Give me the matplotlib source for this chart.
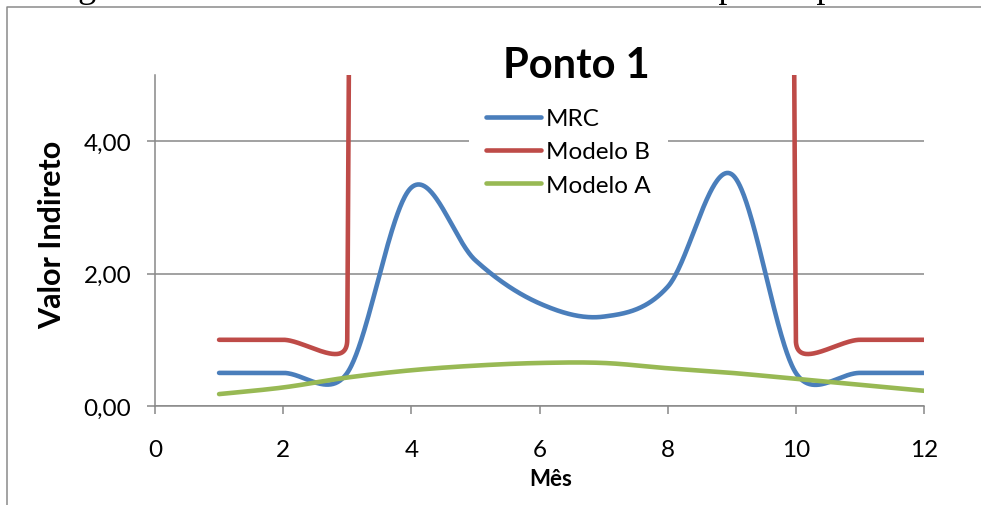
import numpy as np
import matplotlib
matplotlib.use('Agg')
import matplotlib.pyplot as plt
from matplotlib.lines import Line2D

plt.rcParams['font.family'] = ['Lato', 'DejaVu Sans']

# monthly series (Ponto 1)
meses = [1, 2, 3, 4, 5, 6, 7, 8, 9, 10, 11, 12]
mrc = [0.50, 0.50, 0.50, 3.30, 2.20, 1.55, 1.35, 1.80, 3.50, 0.50, 0.50, 0.50]
modelo_b = [1.00, 1.00, 1.00, 300.0, 420.0, 480.0, 470.0, 400.0, 300.0, 1.00, 1.00, 1.00]
modelo_a = [0.18, 0.28, 0.43, 0.54, 0.61, 0.65, 0.65, 0.57, 0.50, 0.41, 0.32, 0.23]

series = [('MRC', mrc, '#4A7EBB'),
          ('Modelo B', modelo_b, '#BE4B48'),
          ('Modelo A', modelo_a, '#98B954')]

xticks = [0, 2, 4, 6, 8, 10, 12]
yticks = [0, 2, 4]

W, H = 981, 506
GRID = '#888888'


def smooth_curve(ax, x, y, n=80):
    """Spreadsheet-style smoothed line: Bezier segments built in screen space."""
    pts = ax.transData.transform(np.column_stack([x, y]))
    out = [pts[0]]
    for i in range(len(pts) - 1):
        p0 = pts[i - 1] if i > 0 else pts[i]
        p1, p2 = pts[i], pts[i + 1]
        p3 = pts[i + 2] if i + 2 < len(pts) else pts[i + 1]
        d02 = np.hypot(*(p2 - p0))
        d12 = np.hypot(*(p2 - p1))
        d13 = np.hypot(*(p3 - p1))
        f1 = f2 = 1 / 6
        if d02 / 6 >= d12 / 2 and d02 > 0:
            f1 = d12 / 2 / d02
        if d13 / 6 >= d12 / 2 and d13 > 0:
            f2 = d12 / 2 / d13
        c1 = p1 + f1 * (p2 - p0)
        c2 = p2 - f2 * (p3 - p1)
        t = np.linspace(0, 1, n)[1:, None]
        seg = ((1 - t) ** 3 * p1 + 3 * (1 - t) ** 2 * t * c1
               + 3 * (1 - t) * t ** 2 * c2 + t ** 3 * p2)
        out.extend(seg)
    out = ax.transData.inverted().transform(np.array(out))
    return out[:, 0], out[:, 1]


fig = plt.figure(figsize=(W / 100, H / 100), dpi=100)
ax = fig.add_axes([155 / W, 1 - 407 / H, (924 - 155) / W, (407 - 76) / H])
ax.set_xlim(0, 12)
ax.set_ylim(0, 5)

for name, vals, color in series:
    sx, sy = smooth_curve(ax, meses, vals)
    ax.plot(sx, sy, color=color, lw=3.3, solid_capstyle='round',
            solid_joinstyle='round', label=name, zorder=3)

ax.set_xticks(xticks)
ax.set_xticklabels([str(v) for v in xticks])
ax.set_yticks(yticks)
ax.set_yticklabels([f'{v:.2f}'.replace('.', ',') for v in yticks])

for side in ('top', 'right'):
    ax.spines[side].set_visible(False)
for side in ('left', 'bottom'):
    ax.spines[side].set_color(GRID)
    ax.spines[side].set_linewidth(1.1)

ax.tick_params(axis='both', colors=GRID, width=1.1, length=6, labelsize=17.5,
               labelcolor='black')
ax.tick_params(axis='x', pad=18)
ax.tick_params(axis='y', pad=11)
ax.yaxis.grid(True, color=GRID, lw=1.1)
ax.set_axisbelow(True)

ax.set_xlabel('Mês', fontsize=16, fontweight='bold')
ax.xaxis.set_label_coords((551 - 155) / 769, (407 - 480) / 331)
ax.xaxis.label.set_va('center')
ax.set_ylabel('Valor Indireto', fontsize=22, fontweight='bold')
ax.yaxis.set_label_coords((52 - 155) / 769, (407 - 235) / 331)
ax.yaxis.label.set_va('center')

fig.text(576 / W, 1 - 66 / H, 'Ponto 1', ha='center', va='center',
         fontsize=30, fontweight='bold')

leg = ax.legend(loc='upper left', bbox_to_anchor=(457 / W, 1 - 80 / H),
                bbox_transform=fig.transFigure, fontsize=17.5, frameon=True,
                handlelength=2.26, handletextpad=0.2, labelspacing=0.5,
                borderpad=0.7, fancybox=False)
leg.get_frame().set_facecolor('white')
leg.get_frame().set_edgecolor('none')
leg.get_frame().set_alpha(1)
for h in leg.get_lines():
    h.set_solid_capstyle('round')

# caption above the chart box (cut by the page edge)
fig.text(48 / W, 1 + 3 / H, 'Figura 3 – Resultados dos modelos simulados para o ponto 1',
         ha='left', va='baseline', fontsize=26, family='Liberation Serif')

# chart box outline
fig.add_artist(Line2D([7 / W, 7 / W, 1.0], [0.0, 1 - 8 / H, 1 - 8 / H],
                      transform=fig.transFigure, color='#8a8a8a', lw=1.1))

fig.savefig('out.png', dpi=100)
